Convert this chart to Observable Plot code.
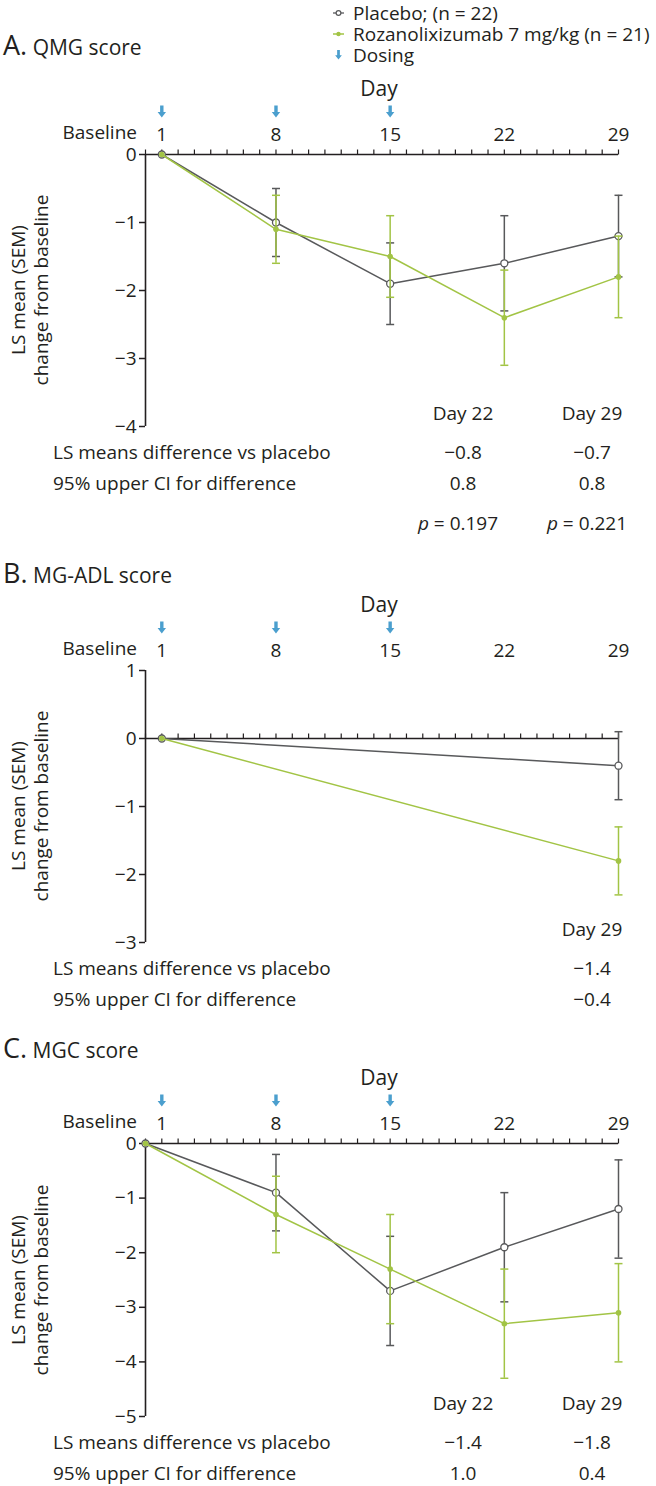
<!DOCTYPE html>
<html><head><meta charset="utf-8">
<script src="https://cdn.jsdelivr.net/npm/d3@7"></script>
<script src="https://cdn.jsdelivr.net/npm/@observablehq/plot@0.6"></script>
<style>
body{margin:0;background:#fff;font-family:"Open Sans",sans-serif;color:#231f20}
#root{position:relative;width:656px;height:1486px;overflow:hidden;background:#fff}
.t{position:absolute;white-space:nowrap;line-height:1}
</style></head><body><div id="root"></div>
<script>
// ---------- data ----------
const legendLabels = ["Placebo; (n = 22)", "Rozanolixizumab 7 mg/kg (n = 21)", "Dosing"];
const tickDays = [1, 8, 15, 22, 29];
const dosingDays = [1, 8, 15];
const dayTicks = d3.range(0, 30);
const rowLabels = ["LS means difference vs placebo", "95% upper CI for difference"];

// A. QMG score
const qmgDays = [1, 8, 15, 22, 29];
const qmgPlacebo = [0, -1.0, -1.9, -1.6, -1.2];
const qmgPlaceboSem = [0, 0.5, 0.6, 0.7, 0.6];
const qmgRoza = [0, -1.1, -1.5, -2.4, -1.8];
const qmgRozaSem = [0, 0.5, 0.6, 0.7, 0.6];
const qmgYTicks = [0, -1, -2, -3, -4];
const qmgTableDays = ["Day 22", "Day 29"];
const qmgDiff = ["−0.8", "−0.7"];
const qmgUpperCI = ["0.8", "0.8"];
const qmgP = ["0.197", "0.221"];

// B. MG-ADL score
const adlDays = [1, 29];
const adlPlacebo = [0, -0.4];
const adlPlaceboSem = [0, 0.5];
const adlRoza = [0, -1.8];
const adlRozaSem = [0, 0.5];
const adlYTicks = [1, 0, -1, -2, -3];
const adlTableDays = ["Day 29"];
const adlDiff = ["−1.4"];
const adlUpperCI = ["−0.4"];

// C. MGC score
const mgcDays = [0, 8, 15, 22, 29];
const mgcPlacebo = [0, -0.9, -2.7, -1.9, -1.2];
const mgcPlaceboSem = [0, 0.7, 1.0, 1.0, 0.9];
const mgcRoza = [0, -1.3, -2.3, -3.3, -3.1];
const mgcRozaSem = [0, 0.7, 1.0, 1.0, 0.9];
const mgcYTicks = [0, -1, -2, -3, -4, -5];
const mgcTableDays = ["Day 22", "Day 29"];
const mgcDiff = ["−1.4", "−1.8"];
const mgcUpperCI = ["1.0", "0.4"];

// ---------- styles ----------
const ink = "#231f20", grey = "#58595b", green = "#a2c445", blue = "#4b9fce";
const FONT = '"Open Sans", sans-serif';
const root = document.getElementById("root");
const fmtY = d => (d < 0 ? "\u2212" : "") + Math.abs(d);

function txt(html, x, y, size, align = "left", extra = "") {
  const d = document.createElement("div");
  d.className = "t";
  d.innerHTML = html;
  d.style.fontSize = size + "px";
  d.style.top = y + "px";
  if (align === "left") { d.style.left = x + "px"; d.style.transform = "translateY(-50%)"; }
  else if (align === "center") { d.style.left = x + "px"; d.style.transform = "translate(-50%,-50%)"; }
  else { d.style.right = (656 - x) + "px"; d.style.transform = "translateY(-50%)"; }
  if (extra) d.style.cssText += extra;
  root.appendChild(d);
  return d;
}

// custom symbols
const upTick = {draw(ctx, size) { const r = Math.sqrt(size / Math.PI); ctx.moveTo(0, 0); ctx.lineTo(0, -r); }};
const capSym = {draw(ctx, size) { const r = Math.sqrt(size / Math.PI); ctx.moveTo(-r, 0); ctx.lineTo(r, 0); }};
const arrowSym = {draw(ctx) {
  ctx.moveTo(-1.7, 0); ctx.lineTo(1.7, 0); ctx.lineTo(1.7, 6.5); ctx.lineTo(4.2, 6.5);
  ctx.lineTo(0, 12); ctx.lineTo(-4.2, 6.5); ctx.lineTo(-1.7, 6.5); ctx.closePath();
}};

function panel(o) {
  const MT = 60, MB = 16;
  const rowsP = o.days.map((d, i) => ({day: d, mean: o.placebo[i], sem: o.placeboSem[i]}));
  const rowsR = o.days.map((d, i) => ({day: d, mean: o.roza[i], sem: o.rozaSem[i]}));
  const errP = rowsP.filter(d => d.sem > 0), errR = rowsR.filter(d => d.sem > 0);
  const errMarks = (rows, color) => [
    Plot.ruleX(rows, {x: "day", y1: d => d.mean - d.sem, y2: d => d.mean + d.sem, stroke: color, strokeWidth: 1.5}),
    Plot.dot(rows, {x: "day", y: d => d.mean - d.sem, symbol: capSym, r: 4, stroke: color, fill: "none", strokeWidth: 1.5}),
    Plot.dot(rows, {x: "day", y: d => d.mean + d.sem, symbol: capSym, r: 4, stroke: color, fill: "none", strokeWidth: 1.5})
  ];
  const plot = Plot.plot({
    width: 656, height: MT + o.frameH + MB,
    marginTop: MT, marginBottom: MB, marginLeft: 145, marginRight: 38,
    x: {domain: [0, 29]},
    y: {domain: o.yDomain},
    style: {fontFamily: FONT, fontSize: "19px", color: ink, background: "transparent", overflow: "visible"},
    marks: [
      Plot.axisX({anchor: "top", ticks: tickDays, tickSize: 0, tickPadding: 14, label: null, tickFormat: d => String(d)}),
      Plot.axisY({ticks: o.yTicks, tickSize: 6, tickPadding: 3, label: null, strokeWidth: 1.5, tickFormat: fmtY}),
      Plot.dot(dosingDays, {x: d => d, frameAnchor: "top", dy: -49, symbol: arrowSym, r: 4, fill: blue, stroke: "none"}),
      Plot.ruleX([0], {stroke: ink, strokeWidth: 1.6}),
      Plot.ruleY([0], {x1: 0, x2: 29, stroke: ink, strokeWidth: 1.6}),
      Plot.dot(dayTicks, {x: d => d, y: 0, symbol: upTick, r: 5, stroke: ink, fill: "none", strokeWidth: 1.2}),
      Plot.line(rowsP, {x: "day", y: "mean", stroke: grey, strokeWidth: 1.5}),
      ...errMarks(errP, grey),
      Plot.dot(rowsP, {x: "day", y: "mean", r: 3.5, stroke: grey, fill: "white", strokeWidth: 1.3}),
      Plot.line(rowsR, {x: "day", y: "mean", stroke: green, strokeWidth: 1.5}),
      ...errMarks(errR, green),
      Plot.dot(rowsR, {x: "day", y: "mean", r: 2.8, fill: green, stroke: "none"})
    ]
  });
  plot.style.position = "absolute";
  plot.style.left = "0px";
  plot.style.top = (o.frameTop - MT) + "px";
  root.appendChild(plot);

  const top = o.frameTop, bottom = o.frameTop + o.frameH;
  txt(`<span style="font-size:27px">${o.letter}</span> <span style="font-size:21px">${o.title}</span>`, 3, o.titleY, 21, "left");
  txt("Day", 379, top - 66, 21, "center");
  txt("Baseline", 137, top - 22, 19, "right");
  txt("LS mean (SEM)<br>change from baseline", 30, (top + bottom) / 2, 19, "center",
    "text-align:center;line-height:23px;transform:translate(-50%,-50%) rotate(-90deg);");
  const cols = o.tableDays.length === 2 ? [463, 592] : [592];
  o.tableDays.forEach((d, i) => txt(d, cols[i], bottom - 13, 19, "center"));
  txt(rowLabels[0], 53, bottom + 26, 19, "left");
  txt(rowLabels[1], 53, bottom + 57, 19, "left");
  o.diff.forEach((d, i) => txt(d, cols[i], bottom + 26, 19, "center"));
  o.upper.forEach((d, i) => txt(d, cols[i], bottom + 57, 19, "center"));
  if (o.p) o.p.forEach((d, i) => txt(`<i>p</i> = ${d}`, cols[i] - 5, bottom + 97, 19, "center"));
}

// legend
const legendY = [13, 34, 55];
legendLabels.forEach((l, i) => txt(l, 353, legendY[i], 19, "left"));
(function legendIcons() {
  const ns = "http://www.w3.org/2000/svg";
  const s = document.createElementNS(ns, "svg");
  s.setAttribute("width", 30); s.setAttribute("height", 70);
  s.style.cssText = "position:absolute;left:325px;top:0px";
  s.innerHTML = `
    <line x1="8" x2="19" y1="${legendY[0]}" y2="${legendY[0]}" stroke="${grey}" stroke-width="1.3"/>
    <circle cx="13.5" cy="${legendY[0]}" r="2.4" fill="white" stroke="${grey}" stroke-width="1.2"/>
    <line x1="8" x2="19" y1="${legendY[1]}" y2="${legendY[1]}" stroke="${green}" stroke-width="1.5"/>
    <circle cx="13.5" cy="${legendY[1]}" r="2.2" fill="${green}"/>
    <path transform="translate(13.5,${legendY[2] - 5}) scale(0.8)" d="M-1.7,0L1.7,0L1.7,6.5L4.2,6.5L0,12L-4.2,6.5L-1.7,6.5Z" fill="${blue}"/>`;
  root.appendChild(s);
})();

panel({letter: "A.", title: "QMG score", titleY: 44, frameTop: 154, frameH: 272, yDomain: [-4, 0], yTicks: qmgYTicks,
  days: qmgDays, placebo: qmgPlacebo, placeboSem: qmgPlaceboSem, roza: qmgRoza, rozaSem: qmgRozaSem,
  tableDays: qmgTableDays, diff: qmgDiff, upper: qmgUpperCI, p: qmgP});
panel({letter: "B.", title: "MG-ADL score", titleY: 572, frameTop: 670, frameH: 272, yDomain: [-3, 1], yTicks: adlYTicks,
  days: adlDays, placebo: adlPlacebo, placeboSem: adlPlaceboSem, roza: adlRoza, rozaSem: adlRozaSem,
  tableDays: adlTableDays, diff: adlDiff, upper: adlUpperCI});
panel({letter: "C.", title: "MGC score", titleY: 1047, frameTop: 1143, frameH: 273, yDomain: [-5, 0], yTicks: mgcYTicks,
  days: mgcDays, placebo: mgcPlacebo, placeboSem: mgcPlaceboSem, roza: mgcRoza, rozaSem: mgcRozaSem,
  tableDays: mgcTableDays, diff: mgcDiff, upper: mgcUpperCI});
</script>
</body></html>
